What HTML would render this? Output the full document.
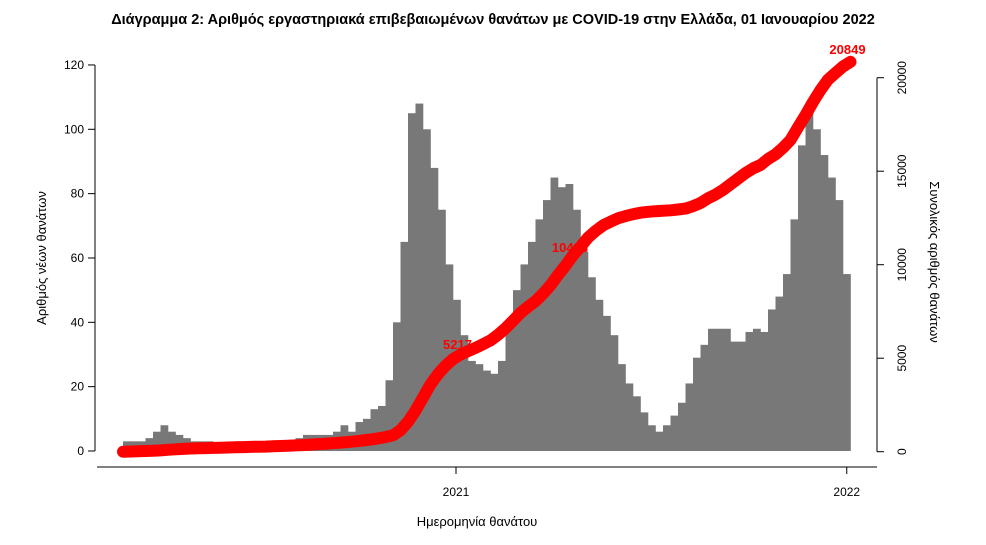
<!DOCTYPE html>
<html><head><meta charset="utf-8"><style>
body{margin:0;background:#fff;width:986px;height:540px;overflow:hidden}
svg{font-family:"Liberation Sans",sans-serif}
</style></head><body>
<svg id="chart" width="986" height="540" viewBox="0 0 986 540" xmlns="http://www.w3.org/2000/svg">
<text x="493" y="24" text-anchor="middle" font-size="14.5" font-weight="bold">Διάγραμμα 2: Αριθμός εργαστηριακά επιβεβαιωμένων θανάτων με COVID-19 στην Ελλάδα, 01 Ιανουαρίου 2022</text>
<g id="bars"></g>
<path id="cumline" fill="none" stroke="#ff0000" stroke-width="12" stroke-linecap="round" stroke-linejoin="round"/>
<g id="axes"></g>
<text transform="translate(46,258) rotate(-90)" text-anchor="middle" font-size="13">Αριθμός νέων θανάτων</text>
<text transform="translate(930,262) rotate(90)" text-anchor="middle" font-size="13">Συνολικός αριθμός θανάτων</text>
<text x="477" y="526" text-anchor="middle" font-size="13">Ημερομηνία θανάτου</text>
</svg>
<script>
const weeklyDeaths=[3,3,3,4,6,8,6,5,4,3,3,3,2,2,2,3,2,2,2,3,3,3,3,4,5,5,5,5,6,8,6,9,10,13,14,22,40,65,105,108,100,88,75,58,47,36,28,27,25,24,28,38,50,58,65,72,78,85,82,83,75,62,54,47,42,36,27,21,17,12,8,6,8,11,15,21,29,33,38,38,38,34,34,37,38,37,44,48,55,72,95,108,100,92,85,78,55];
const cumulativeDeaths=[0,10,20,35,50,70,100,130,150,170,185,195,205,215,225,235,245,255,265,275,290,305,320,335,355,380,405,430,455,485,520,555,600,650,710,780,880,1150,1600,2200,2900,3600,4150,4600,4950,5200,5380,5550,5750,5950,6250,6600,7000,7420,7750,8050,8450,8900,9450,9950,10500,10950,11450,11800,12100,12300,12480,12600,12700,12780,12830,12860,12880,12910,12950,13000,13130,13300,13550,13750,14000,14300,14600,14900,15150,15330,15650,15900,16250,16670,17350,18000,18700,19340,19900,20250,20600,20849];
const leftTicks=[0,20,40,60,80,100,120];
const rightTicks=[0,5000,10000,15000,20000];
const xTickLabels=["2021","2022"];
const xTickWeeks=[44.4,96.5];
const callouts=[{week:45,value:5217},{week:60,value:10423},{week:97,value:20849}];

const NS="http://www.w3.org/2000/svg";
const X0=123, WK=7.5;
const xw=w=>X0+w*WK;
const yL=v=>451-v*3.217;
const yR=v=>451.7-v*0.0187;
function mk(tag,attrs,parent){const e=document.createElementNS(NS,tag);for(const k in attrs)e.setAttribute(k,attrs[k]);parent.appendChild(e);return e;}

const bars=document.getElementById('bars');
weeklyDeaths.forEach((v,i)=>{
  const r=mk('rect',{x:xw(i),y:yL(v),width:WK+0.3,height:451-yL(v),fill:'#787878'},bars);
  
  
});
let d='';
cumulativeDeaths.forEach((v,i)=>{d+=(i?'L':'M')+xw(i).toFixed(1)+' '+yR(v).toFixed(1);});
document.getElementById('cumline').setAttribute('d',d);

const svg=document.getElementById('chart');
callouts.forEach(c=>{
  const t=mk('text',{x:xw(c.week)-3,y:yR(c.value)-(c.week>90?8:5),'text-anchor':'middle','font-size':'13','font-weight':'bold',fill:'#ff0000'},svg);
  t.textContent=c.value;
  
  
});

const ax=document.getElementById('axes');
mk('line',{x1:95,y1:yL(0),x2:95,y2:yL(120),stroke:'#000'},ax);
leftTicks.forEach(v=>{
  mk('line',{x1:88,y1:yL(v),x2:95,y2:yL(v),stroke:'#000'},ax);
  const t=mk('text',{x:84,y:yL(v)+4,'text-anchor':'end','font-size':'12'},ax);
  t.textContent=v;
  
  
});
mk('line',{x1:877,y1:yR(0),x2:877,y2:yR(20000),stroke:'#000'},ax);
rightTicks.forEach(v=>{
  mk('line',{x1:877,y1:yR(v),x2:884,y2:yR(v),stroke:'#000'},ax);
  const t=mk('text',{transform:'translate(906,'+yR(v)+') rotate(-90)','text-anchor':'middle','font-size':'12'},ax);
  t.textContent=v;
  
  
});
mk('line',{x1:97,y1:467,x2:877,y2:467,stroke:'#000'},ax);
xTickLabels.forEach((s,i)=>{
  const x=xw(xTickWeeks[i]);
  mk('line',{x1:x,y1:467,x2:x,y2:474,stroke:'#000'},ax);
  const t=mk('text',{x:x,y:496,'text-anchor':'middle','font-size':'12'},ax);
  t.textContent=s;
  
  
});
</script>
</body></html>
